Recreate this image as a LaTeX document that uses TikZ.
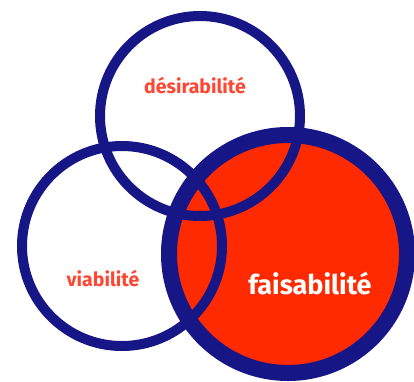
\documentclass[tikz,border=0pt]{standalone}
\usepackage{fontspec}
\setmainfont{Fira Sans}
\definecolor{navy}{RGB}{22,22,135}
\definecolor{vermilion}{RGB}{255,42,0}
\definecolor{labelred}{RGB}{255,70,50}
\begin{document}
\begin{tikzpicture}[x=1pt,y=-1pt,
    ring/.style={circle,draw=navy,line width=10pt,inner sep=0pt,minimum size=200pt},
    lbl/.style={font=\bfseries\fontsize{19.5}{19.5}\selectfont,text=labelred}]
  \useasboundingbox (0,0) rectangle (414,381);
  % red circle below the others
  \node[ring,fill=vermilion,line width=16pt,minimum size=238pt] (faisa) at (288,254) {};
  \node[ring] (desir) at (200,116) {};
  \node[ring] (viab) at (122,246) {};
  % labels
  \node[lbl] (desirtxt) at (195,86) {désirabilité};
  \node[lbl] (viabtxt) at (103,279) {viabilité};
  \node[lbl,text=white,font=\bfseries\fontsize{27}{27}\selectfont] (faisatxt) at (310,283) {faisabilité};
\end{tikzpicture}
\end{document}
